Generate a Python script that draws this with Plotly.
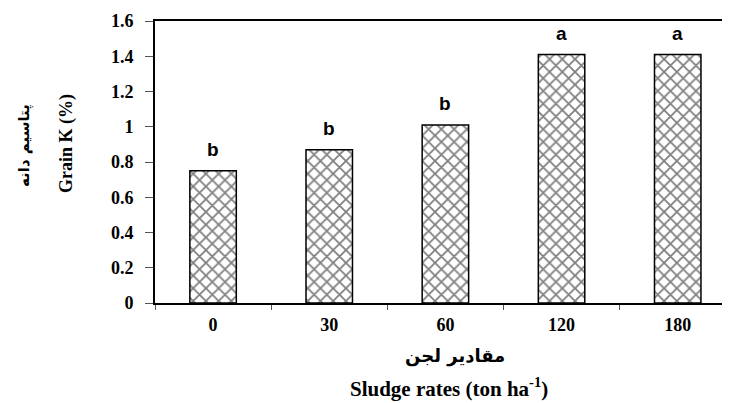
import plotly.graph_objects as go

rates = ["0", "30", "60", "120", "180"]
grain_k = [0.75, 0.87, 1.01, 1.41, 1.41]
letters = ["b", "b", "b", "a", "a"]
y_ticks = [0, 0.2, 0.4, 0.6, 0.8, 1, 1.2, 1.4, 1.6]

serif = "Liberation Serif, Times New Roman, serif"

fig = go.Figure()
fig.add_trace(
    go.Bar(
        x=rates,
        y=grain_k,
        marker=dict(
            color="white",
            line=dict(color="black", width=1.5),
            pattern=dict(shape="x", fgcolor="black", bgcolor="white", size=9, solidity=0.35),
        ),
        showlegend=False,
    )
)

# significance letters; category axis -> position by index
for i, (val, lab) in enumerate(zip(grain_k, letters)):
    fig.add_annotation(
        x=i, y=val, text=lab, showarrow=False, yshift=21,
        xanchor="center", yanchor="middle",
        font=dict(family="Liberation Sans, Arial, sans-serif", size=19, color="black", weight="bold"),
    )

fig.add_annotation(
    xref="paper", yref="paper", x=-0.228, y=0.56, text="پتاسیم دانه", textangle=-90,
    xanchor="center", yanchor="middle",
    showarrow=False, font=dict(family="DejaVu Sans", size=15, color="black", weight="bold"),
)
fig.add_annotation(
    xref="paper", yref="paper", x=-0.155, y=0.567, text="Grain K (%)", textangle=-90,
    xanchor="center", yanchor="middle",
    showarrow=False, font=dict(family=serif, size=18, color="black", weight="bold"),
)
fig.add_annotation(
    xref="paper", yref="paper", x=0.522, y=-0.188, text="مقادیر لجن",
    xanchor="center", yanchor="middle",
    showarrow=False, font=dict(family="DejaVu Sans", size=18, color="black", weight="bold"),
)
fig.add_annotation(
    xref="paper", yref="paper", x=0.511, y=-0.301, text="Sludge rates (ton ha<sup>-1</sup>)",
    xanchor="center", yanchor="middle",
    showarrow=False, font=dict(family=serif, size=21, color="black", weight="bold"),
)

# page body has an 8px margin, so the figure is shrunk by that much
fig.update_layout(
    width=722,
    height=395,
    margin=dict(l=147, r=0, t=13, b=100),
    plot_bgcolor="white",
    paper_bgcolor="white",
    bargap=0.6,
    xaxis=dict(
        type="category",
        range=[-0.5, 4.45],
        automargin=False,
        tickson="boundaries",
        ticks="outside",
        ticklen=5,
        tickcolor="#555",
        ticklabelstandoff=4,
        showline=True,
        linecolor="black",
        linewidth=2,
        mirror=True,
        showgrid=False,
        tickfont=dict(family=serif, size=18, color="black", weight="bold"),
    ),
    yaxis=dict(
        range=[0, 1.6],
        automargin=False,
        tickvals=y_ticks,
        ticktext=[f"{v:g}" for v in y_ticks],
        ticks="outside",
        ticklen=8,
        tickcolor="#555",
        ticklabelstandoff=8,
        showline=True,
        linecolor="black",
        linewidth=2,
        showgrid=False,
        zeroline=False,
        tickfont=dict(family=serif, size=18, color="black", weight="bold"),
    ),
)

fig.write_html("out.html")
